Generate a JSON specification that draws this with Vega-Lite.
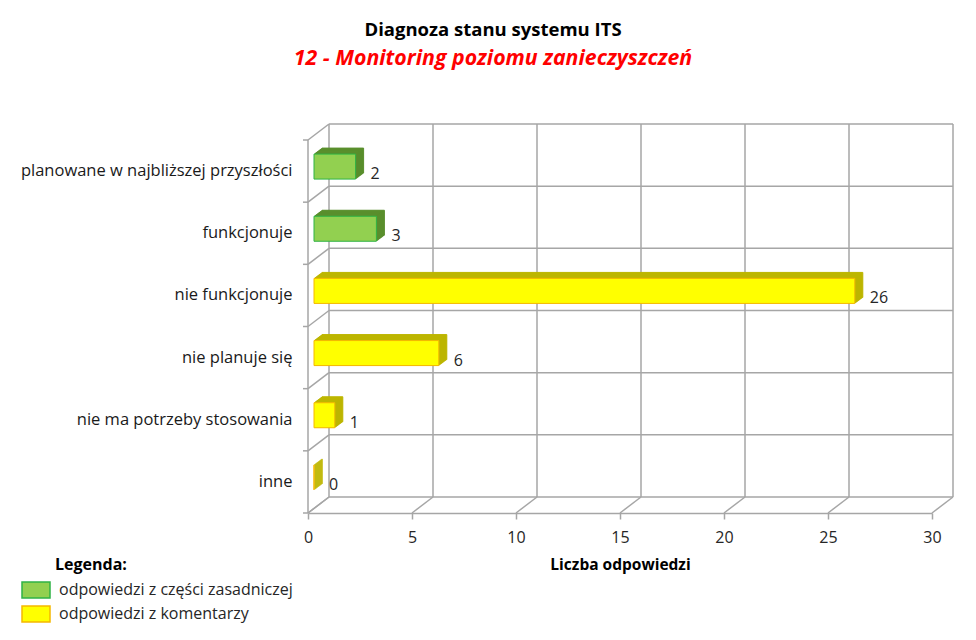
{
  "$schema": "https://vega.github.io/schema/vega-lite/v6.json",
  "width": 624,
  "height": 373,
  "autosize": "none",
  "padding": {"left": 308, "top": 140, "right": 44, "bottom": 127},
  "background": "white",
  "config": {
    "view": {"stroke": null},
    "font": "Open Sans",
    "axisX": {"grid": false, "domainColor": "#a6a6a6", "domainWidth": 1.5, "tickColor": "#a6a6a6", "tickWidth": 1.5, "tickSize": 6, "labelFont": "Open Sans", "labelFontSize": 16, "labelColor": "#262626", "labelPadding": 10, "labelFlush": false, "titleFont": "Open Sans", "titleFontSize": 15.5, "titleFontWeight": "bold", "titleColor": "#000000", "titlePadding": 12, "tickCount": 6},
    "axisY": {"domain": false, "ticks": false, "grid": false, "labelFont": "Open Sans", "labelFontSize": 16.5, "labelColor": "#1a1a1a", "labelPadding": 16, "labelLimit": 400},
    "legend": {
      "orient": "none",
      "legendX": -281,
      "legendY": 417,
      "padding": 0,
      "titleFont": "Open Sans",
      "titleFontSize": 16,
      "titleFontWeight": "bold",
      "titleColor": "#000000",
      "titlePadding": 8,
      "labelFont": "Open Sans",
      "labelFontSize": 16,
      "labelColor": "#262626",
      "labelOffset": 14,
      "labelLimit": 400,
      "symbolType": "M-1.75,-1H1.75V1H-1.75Z",
      "symbolSize": 256,
      "symbolStrokeWidth": 1.5,
      "rowPadding": 2
    }
  },
  "title": {
    "text": "Diagnoza stanu systemu ITS",
    "subtitle": "12 - Monitoring poziomu zanieczyszczeń",
    "anchor": "middle",
    "frame": "group",
    "dx": -127,
    "offset": 54,
    "font": "Open Sans",
    "fontSize": 18.5,
    "fontWeight": "bold",
    "color": "#000000",
    "subtitleFont": "Open Sans",
    "subtitleColor": "#ff0000",
    "subtitleFontSize": 21.3,
    "subtitleFontStyle": "italic",
    "subtitleFontWeight": "bold",
    "subtitlePadding": 8
  },
  "datasets": {
    "bars": [
      {"category": "planowane w najbliższej przyszłości", "value": 2, "group": "odpowiedzi z części zasadniczej"},
      {"category": "funkcjonuje", "value": 3, "group": "odpowiedzi z części zasadniczej"},
      {"category": "nie funkcjonuje", "value": 26, "group": "odpowiedzi z komentarzy"},
      {"category": "nie planuje się", "value": 6, "group": "odpowiedzi z komentarzy"},
      {"category": "nie ma potrzeby stosowania", "value": 1, "group": "odpowiedzi z komentarzy"},
      {"category": "inne", "value": 0, "group": "odpowiedzi z komentarzy"}
    ],
    "xticks": [{"t": 0}, {"t": 5}, {"t": 10}, {"t": 15}, {"t": 20}, {"t": 25}, {"t": 30}],
    "rows": [{"b": 0}, {"b": 1}, {"b": 2}, {"b": 3}, {"b": 4}, {"b": 5}, {"b": 6}]
  },
  "layer": [
    {
      "layer": [
        {
          "data": {"name": "xticks"},
          "mark": {"type": "rule", "color": "#a6a6a6", "strokeWidth": 1.5, "xOffset": 21, "x2Offset": 21, "yOffset": -16, "y2Offset": -16},
          "encoding": {
            "x": {"field": "t", "type": "quantitative", "scale": {"domain": [0, 30], "nice": false}, "title": "Liczba odpowiedzi"},
            "x2": {"field": "t"},
            "y": {"datum": 0, "type": "quantitative", "scale": {"domain": [0, 6], "nice": false}, "axis": null},
            "y2": {"datum": 6}
          }
        },
        {
          "data": {"name": "rows"},
          "mark": {"type": "rule", "color": "#a6a6a6", "strokeWidth": 1.5, "xOffset": 21, "x2Offset": 21, "yOffset": -16, "y2Offset": -16},
          "encoding": {
            "x": {"datum": 0, "type": "quantitative"},
            "x2": {"datum": 30},
            "y": {"field": "b", "type": "quantitative", "axis": null},
            "y2": {"field": "b"}
          }
        },
        {
          "data": {"name": "xticks"},
          "mark": {"type": "rule", "color": "#a6a6a6", "strokeWidth": 1.5, "x2Offset": 21, "y2Offset": -16},
          "encoding": {
            "x": {"field": "t", "type": "quantitative", "title": "Liczba odpowiedzi"},
            "x2": {"field": "t"},
            "y": {"datum": 0, "type": "quantitative", "axis": null},
            "y2": {"datum": 0}
          }
        },
        {
          "data": {"name": "rows"},
          "mark": {"type": "rule", "color": "#a6a6a6", "strokeWidth": 1.5, "x2Offset": 21, "y2Offset": -16},
          "encoding": {
            "x": {"datum": 0, "type": "quantitative"},
            "x2": {"datum": 0},
            "y": {"field": "b", "type": "quantitative", "axis": null},
            "y2": {"field": "b"}
          }
        },
        {
          "data": {"name": "rows"},
          "mark": {"type": "rule", "color": "#a6a6a6", "strokeWidth": 1.5, "xOffset": -5},
          "encoding": {
            "x": {"datum": 0, "type": "quantitative"},
            "x2": {"datum": 0},
            "y": {"field": "b", "type": "quantitative", "axis": null},
            "y2": {"field": "b"}
          }
        },
        {
          "data": {"values": [{}]},
          "mark": {"type": "rule", "color": "#a6a6a6", "strokeWidth": 1.5},
          "encoding": {
            "x": {"datum": 0, "type": "quantitative"},
            "y": {"datum": 0, "type": "quantitative", "axis": null},
            "y2": {"datum": 6}
          }
        }
      ]
    },
    {
      "data": {"name": "bars"},
      "encoding": {
        "y": {
          "field": "category",
          "type": "nominal",
          "sort": ["planowane w najbliższej przyszłości", "funkcjonuje", "nie funkcjonuje", "nie planuje się", "nie ma potrzeby stosowania", "inne"],
          "scale": {"paddingInner": 0, "paddingOuter": 0},
          "title": null
        },
        "x": {"field": "value", "type": "quantitative", "title": "Liczba odpowiedzi"}
      },
      "layer": [
        {"mark": {"type": "bar", "size": 25, "strokeWidth": 1, "xOffset": 14, "x2Offset": 14, "yOffset": -10.5, "y2Offset": -10.5},
         "encoding": {"fill": {"condition": {"test": "datum.group === 'odpowiedzi z części zasadniczej'", "value": "#5a8f2d"}, "value": "#bdb600"}, "stroke": {"condition": {"test": "datum.group === 'odpowiedzi z części zasadniczej'", "value": "#5a8f2d"}, "value": "#bdb600"}}},
        {"mark": {"type": "bar", "size": 25, "strokeWidth": 1, "xOffset": 13, "x2Offset": 13, "yOffset": -9.75, "y2Offset": -9.75},
         "encoding": {"fill": {"condition": {"test": "datum.group === 'odpowiedzi z części zasadniczej'", "value": "#5a8f2d"}, "value": "#bdb600"}, "stroke": {"condition": {"test": "datum.group === 'odpowiedzi z części zasadniczej'", "value": "#5a8f2d"}, "value": "#bdb600"}}},
        {"mark": {"type": "bar", "size": 25, "strokeWidth": 1, "xOffset": 12, "x2Offset": 12, "yOffset": -9, "y2Offset": -9},
         "encoding": {"fill": {"condition": {"test": "datum.group === 'odpowiedzi z części zasadniczej'", "value": "#5a8f2d"}, "value": "#bdb600"}, "stroke": {"condition": {"test": "datum.group === 'odpowiedzi z części zasadniczej'", "value": "#5a8f2d"}, "value": "#bdb600"}}},
        {"mark": {"type": "bar", "size": 25, "strokeWidth": 1, "xOffset": 11, "x2Offset": 11, "yOffset": -8.25, "y2Offset": -8.25},
         "encoding": {"fill": {"condition": {"test": "datum.group === 'odpowiedzi z części zasadniczej'", "value": "#5a8f2d"}, "value": "#bdb600"}, "stroke": {"condition": {"test": "datum.group === 'odpowiedzi z części zasadniczej'", "value": "#5a8f2d"}, "value": "#bdb600"}}},
        {"mark": {"type": "bar", "size": 25, "strokeWidth": 1, "xOffset": 10, "x2Offset": 10, "yOffset": -7.5, "y2Offset": -7.5},
         "encoding": {"fill": {"condition": {"test": "datum.group === 'odpowiedzi z części zasadniczej'", "value": "#5a8f2d"}, "value": "#bdb600"}, "stroke": {"condition": {"test": "datum.group === 'odpowiedzi z części zasadniczej'", "value": "#5a8f2d"}, "value": "#bdb600"}}},
        {"mark": {"type": "bar", "size": 25, "strokeWidth": 1, "xOffset": 9, "x2Offset": 9, "yOffset": -6.75, "y2Offset": -6.75},
         "encoding": {"fill": {"condition": {"test": "datum.group === 'odpowiedzi z części zasadniczej'", "value": "#5a8f2d"}, "value": "#bdb600"}, "stroke": {"condition": {"test": "datum.group === 'odpowiedzi z części zasadniczej'", "value": "#5a8f2d"}, "value": "#bdb600"}}},
        {"mark": {"type": "bar", "size": 25, "strokeWidth": 1, "xOffset": 8, "x2Offset": 8, "yOffset": -6, "y2Offset": -6},
         "encoding": {"fill": {"condition": {"test": "datum.group === 'odpowiedzi z części zasadniczej'", "value": "#5a8f2d"}, "value": "#bdb600"}, "stroke": {"condition": {"test": "datum.group === 'odpowiedzi z części zasadniczej'", "value": "#5a8f2d"}, "value": "#bdb600"}}},
        {"mark": {"type": "bar", "size": 25, "strokeWidth": 1, "xOffset": 7, "x2Offset": 7, "yOffset": -5.25, "y2Offset": -5.25},
         "encoding": {"fill": {"condition": {"test": "datum.group === 'odpowiedzi z części zasadniczej'", "value": "#5a8f2d"}, "value": "#bdb600"}, "stroke": {"condition": {"test": "datum.group === 'odpowiedzi z części zasadniczej'", "value": "#5a8f2d"}, "value": "#bdb600"}}},
        {"mark": {"type": "bar", "size": 25, "strokeWidth": 1, "xOffset": 6, "x2Offset": 6, "yOffset": -4.5, "y2Offset": -4.5},
         "encoding": {
           "fill": {"field": "group", "type": "nominal", "scale": {"domain": ["odpowiedzi z części zasadniczej", "odpowiedzi z komentarzy"], "range": ["#92d050", "#ffff00"]}, "legend": {"title": "Legenda:", "encode": {"title": {"update": {"dx": {"value": 28}}}}}},
           "stroke": {"field": "group", "type": "nominal", "scale": {"domain": ["odpowiedzi z części zasadniczej", "odpowiedzi z komentarzy"], "range": ["#2fb344", "#f5b800"]}, "legend": {"title": "Legenda:", "encode": {"title": {"update": {"dx": {"value": 28}}}}}}
         }},
        {"mark": {"type": "text", "align": "left", "baseline": "middle", "dx": 21, "dy": 3, "font": "Open Sans", "fontSize": 16, "color": "#262626"},
         "encoding": {"text": {"field": "value", "type": "quantitative"}}}
      ]
    }
  ],
  "resolve": {"scale": {"y": "independent"}},
  "encoding": {}
}
